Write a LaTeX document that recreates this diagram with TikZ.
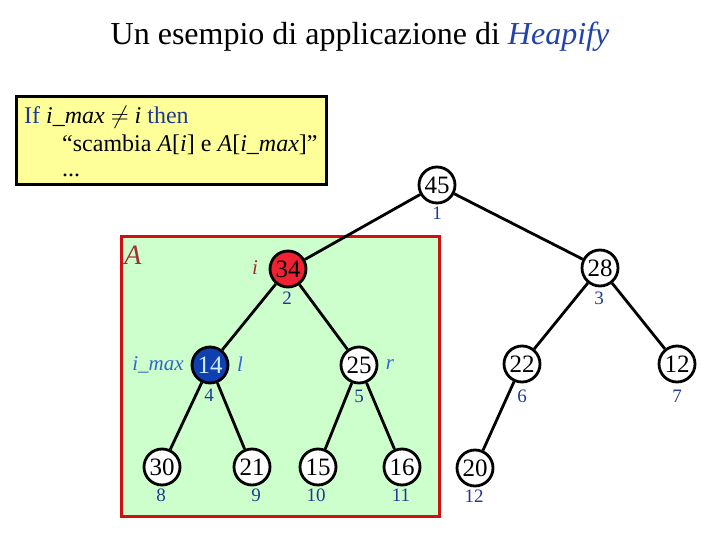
\documentclass[tikz,border=0pt]{standalone}
\usepackage{fontspec}
\setmainfont{Liberation Serif}
\definecolor{navy}{HTML}{1F3A93}
\definecolor{lblue}{HTML}{3366CC}
\definecolor{tblue}{HTML}{2244AA}
\definecolor{boxred}{HTML}{D01010}
\definecolor{lgreen}{HTML}{CCFFCC}
\definecolor{lyellow}{HTML}{FFFF99}
\definecolor{nodered}{HTML}{EE2233}
\definecolor{nodeblue}{HTML}{1040B0}
\definecolor{brownred}{HTML}{A03030}
\begin{document}
\begin{tikzpicture}[x=1pt,y=-1pt,
  hnode/.style={circle,draw=black,line width=2.8pt,fill=white,minimum size=36pt,inner sep=0pt,font=\fontsize{25}{25}\selectfont},
  idx/.style={text=navy,font=\fontsize{19}{19}\selectfont,inner sep=0pt},
  lab/.style={text=lblue,font=\fontsize{21}{21}\selectfont\itshape,inner sep=0pt},
  edge/.style={line width=2.8pt,black}]
\useasboundingbox (0,0) rectangle (720,540);
\fill[white] (0,0) rectangle (720,540);
% title
\node[font=\fontsize{32}{32}\selectfont,inner sep=0pt] (title) at (360,37) {Un esempio di applicazione di \textcolor{tblue}{\textit{Heapify}}};
% yellow box
\node[draw=black,line width=3pt,fill=lyellow,minimum width=310pt,minimum height=88pt,anchor=north west,inner sep=0pt] (ybox) at (15,95) {};
\node[anchor=base west,inner sep=0pt,font=\fontsize{24}{24}\selectfont] (l1) at (24,124) {\textcolor{navy}{If} \textit{i\_max} $\neq$ \textit{i} \textcolor{navy}{then}};
\node[anchor=base west,inner sep=0pt,font=\fontsize{24}{24}\selectfont] (l2) at (62,152) {“scambia \textit{A}[\textit{i}] e \textit{A}[\textit{i\_max}]”};
\node[anchor=base west,inner sep=0pt,font=\fontsize{24}{24}\selectfont] (l3) at (62,177) {...};
% green box
\node[draw=boxred,line width=3pt,fill=lgreen,minimum width=318pt,minimum height=280pt,anchor=north west,inner sep=0pt] (gbox) at (120,235) {};
\node[text=brownred,font=\fontsize{28}{28}\selectfont\itshape,inner sep=0pt] (Alab) at (133,255) {A};
% nodes
\node[hnode] (n1) at (437,185) {45};
\node[hnode,fill=nodered] (n2) at (288,269) {34};
\node[hnode] (n3) at (600,268) {28};
\node[hnode,fill=nodeblue,text=cyan!20] (n4) at (210,365) {14};
\node[hnode] (n5) at (359,365) {25};
\node[hnode] (n6) at (522,364) {22};
\node[hnode] (n7) at (677,364) {12};
\node[hnode] (n8) at (162,467) {30};
\node[hnode] (n9) at (252,467) {21};
\node[hnode] (n10) at (318,467) {15};
\node[hnode] (n11) at (402,467) {16};
\node[hnode] (n12) at (475,468) {20};
% edges
\draw[edge] (n1) -- (n2);
\draw[edge] (n1) -- (n3);
\draw[edge] (n2) -- (n4);
\draw[edge] (n2) -- (n5);
\draw[edge] (n3) -- (n6);
\draw[edge] (n3) -- (n7);
\draw[edge] (n4) -- (n8);
\draw[edge] (n4) -- (n9);
\draw[edge] (n5) -- (n10);
\draw[edge] (n5) -- (n11);
\draw[edge] (n6) -- (n12);
% index labels
\node[idx] (i1) at (437,213) {1};
\node[idx] (i2) at (287,298) {2};
\node[idx] (i3) at (599,298) {3};
\node[idx] (i4) at (209,395) {4};
\node[idx] (i5) at (359,396) {5};
\node[idx] (i6) at (522,396) {6};
\node[idx] (i7) at (677,396) {7};
\node[idx] (i8) at (161,495) {8};
\node[idx] (i9) at (256,495) {9};
\node[idx] (i10) at (316,495) {10};
\node[idx] (i11) at (401,495) {11};
\node[idx] (i12) at (474,496) {12};
% pointer labels
\node[lab,text=brownred] (li) at (255,268) {i};
\node[lab] (limax) at (158,365) {i\_max};
\node[lab] (ll) at (240,364) {l};
\node[lab] (lr) at (390,365) {r};
\end{tikzpicture}
\end{document}
